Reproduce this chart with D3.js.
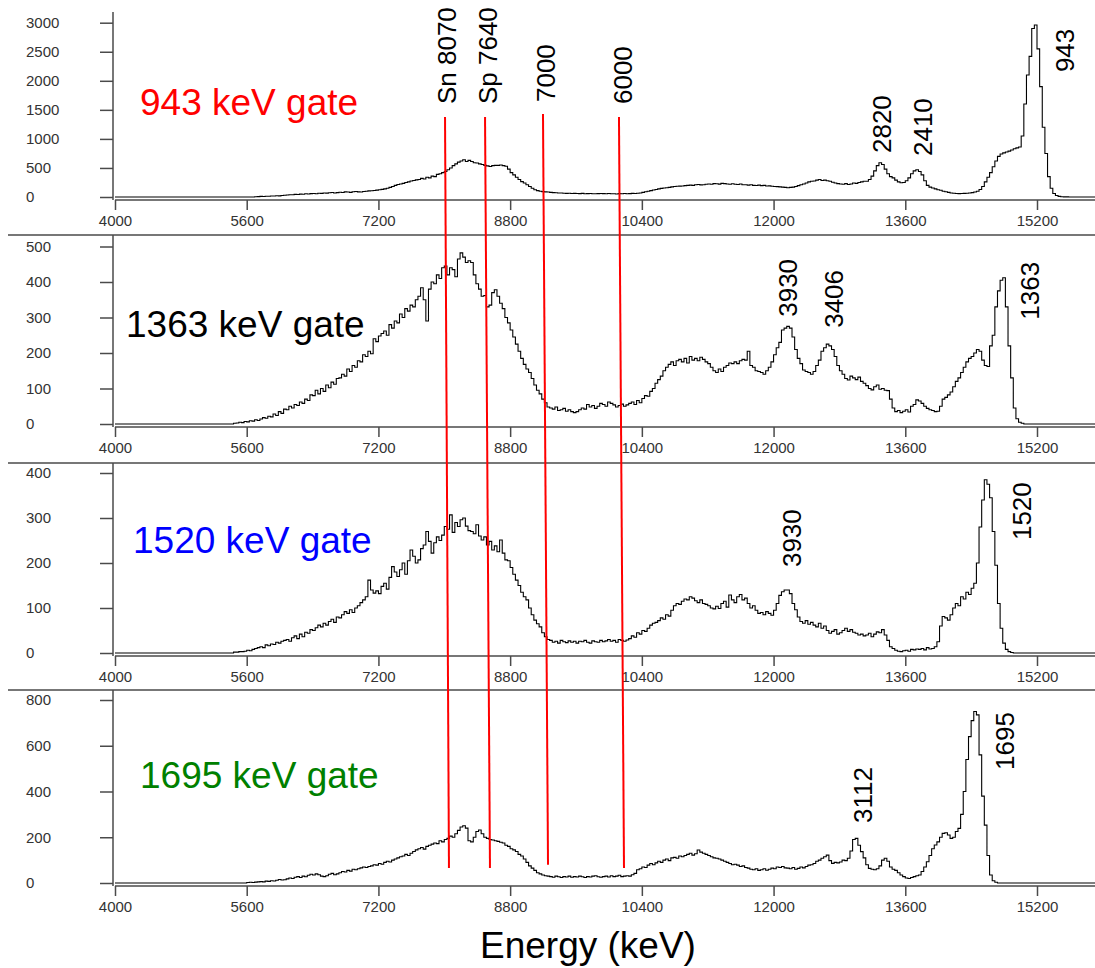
<!DOCTYPE html>
<html>
<head>
<meta charset="utf-8">
<script src="https://cdn.jsdelivr.net/npm/d3@7"></script>
<style>
  body { margin: 0; background: #fff; }
  svg { display: block; }
  text { font-family: "Liberation Sans", Arial, Helvetica, sans-serif; }
</style>
</head>
<body>
<svg id="chart" width="1095" height="968"></svg>
<script>
// Histogram binning (keV): every spectrum starts at binStart, fixed bin width
const binStart = 5440;
const binWidth = 32;

// Gated sum-energy spectra, counts per 32 keV bin (10 bins per row)
const counts943 = [
  0,0,0,0,0,0,0,0,4,6,
  10,8,14,12,18,16,22,20,26,30,
  35,40,38,45,42,50,48,55,52,58,
  60,56,65,62,70,66,72,78,70,76,
  82,78,88,85,80,90,94,88,86,95,
  100,105,108,112,118,125,132,140,150,165,
  180,200,215,225,235,250,260,275,285,295,
  300,320,310,340,330,360,350,390,400,420,
  440,470,500,540,570,600,620,640,610,630,
  610,590,585,570,560,545,535,525,540,545,
  545,550,540,530,480,420,380,340,300,265,
  240,210,180,150,125,110,100,92,88,85,
  80,75,72,70,68,65,62,64,60,62,
  60,58,62,55,58,60,56,55,58,60,
  58,55,60,57,55,52,58,55,60,56,
  58,62,60,65,70,80,90,100,110,120,
  130,140,148,155,160,165,175,180,185,188,
  190,195,200,205,200,210,215,208,212,220,
  225,220,230,228,222,235,230,225,220,228,
  220,215,225,210,212,205,210,200,198,205,
  195,200,190,192,185,180,178,175,170,165,
  160,165,170,180,195,210,225,240,260,270,
  275,290,300,285,290,280,270,255,240,230,
  225,220,230,215,225,240,235,250,260,270,
  270,300,360,450,540,590,560,480,400,350,
  330,290,260,245,250,280,330,400,450,470,
  440,380,280,200,170,155,140,125,115,100,
  90,80,70,65,60,58,60,62,65,70,
  75,85,100,130,180,260,340,420,520,620,
  700,740,760,775,790,810,830,845,860,1050,
  1600,2100,2420,2900,2960,2550,1900,1200,750,350,
  150,60,25,10,5,3,2,0,0,0
];

const counts1363 = [
  2,3,5,4,7,6,9,8,12,10,
  14,18,16,22,20,28,24,35,30,42,
  40,50,45,55,52,62,58,70,66,82,
  80,95,85,100,92,110,102,118,112,128,
  130,140,135,155,148,165,160,178,175,195,
  190,205,198,240,232,248,255,262,250,280,
  270,290,285,310,300,325,318,335,330,350,
  360,384,350,290,380,400,395,420,410,440,
  445,420,440,435,415,465,482,470,455,460,
  455,420,395,380,360,362,330,335,370,378,
  360,340,325,300,285,265,245,225,205,185,
  168,155,145,128,110,95,85,70,60,48,
  45,42,48,38,40,44,36,40,35,32,
  35,40,45,42,55,48,52,44,50,58,
  55,50,62,58,54,48,52,56,50,54,
  58,62,55,66,60,72,80,78,92,100,
  115,125,135,150,160,168,175,165,178,182,
  175,185,172,190,180,185,178,188,182,175,
  170,160,150,145,155,148,160,165,172,170,
  175,170,178,182,180,205,165,160,150,148,
  145,140,150,160,175,195,215,230,265,270,
  275,270,245,210,185,170,152,148,145,140,
  148,165,180,205,215,225,220,210,190,165,
  150,140,128,124,135,130,125,132,120,115,
  108,100,96,105,110,98,100,95,94,70,
  45,35,38,32,36,40,34,50,55,68,
  65,58,50,44,40,38,35,36,50,70,
  75,82,90,105,120,130,145,160,175,185,
  190,200,210,205,180,165,162,220,250,330,
  375,405,412,330,220,130,45,15,5,2
];

const counts1520 = [
  2,2,3,3,4,6,5,8,10,12,
  14,12,18,16,20,19,24,22,26,28,
  30,26,34,38,32,42,36,46,44,52,
  50,56,62,58,66,62,70,75,68,80,
  78,85,92,88,96,90,100,105,112,118,
  125,162,140,133,138,132,148,155,142,168,
  192,180,170,185,200,175,205,229,215,200,
  207,232,240,270,248,222,245,258,250,262,
  281,275,307,268,290,281,296,300,282,272,
  270,265,285,260,251,258,240,248,229,238,
  225,251,222,207,205,190,175,162,150,135,
  125,118,100,85,73,65,58,45,36,30,
  28,24,26,22,28,25,23,27,24,26,
  22,26,25,28,24,22,27,25,24,28,
  25,27,30,26,28,24,30,28,26,29,
  32,38,35,45,42,50,48,55,62,66,
  68,72,78,75,85,82,95,105,110,108,
  115,120,118,125,122,116,112,118,110,108,
  105,100,98,104,99,110,115,102,129,118,
  112,125,130,118,122,110,100,105,95,88,
  90,85,92,88,84,95,110,128,136,140,
  140,132,110,96,80,70,66,72,64,68,
  62,58,66,55,60,50,44,48,52,42,
  45,50,55,48,52,46,44,40,42,38,
  40,44,36,42,47,45,52,40,28,14,
  10,6,4,3,5,6,4,8,7,9,
  8,10,7,12,9,10,14,25,60,81,
  78,73,85,100,110,105,125,120,135,130,
  144,155,200,280,340,385,375,345,270,195,
  110,55,22,8,3,1
];

const counts1695 = [
  0,0,0,0,0,2,3,2,4,5,
  6,5,8,7,10,9,12,15,13,14,
  18,22,20,25,28,24,30,27,34,38,
  35,40,36,30,28,32,38,42,36,40,
  45,50,48,55,52,60,58,62,66,70,
  68,72,75,80,78,85,82,90,95,92,
  100,105,110,115,118,125,120,130,138,145,
  150,155,148,160,165,170,175,172,185,180,
  190,195,205,200,215,230,245,250,240,185,
  180,200,225,232,215,200,195,190,188,185,
  182,178,175,165,160,150,145,138,125,118,
  105,90,75,65,55,45,40,35,32,30,
  28,25,30,27,24,28,26,30,25,28,
  26,30,27,24,28,26,30,32,27,25,
  28,30,26,32,28,30,34,28,30,32,
  30,36,42,58,62,70,68,78,85,80,
  88,95,90,100,105,98,110,112,108,118,
  115,120,125,130,122,128,144,135,130,125,
  120,115,110,108,105,100,95,90,85,80,
  82,78,72,75,68,65,60,58,62,55,
  58,62,56,60,65,62,70,68,72,66,
  65,62,68,60,64,70,66,72,78,80,
  85,95,100,108,115,122,98,86,90,88,
  92,100,98,108,140,190,195,165,137,110,
  80,64,60,58,62,75,100,108,95,70,
  60,55,45,35,28,22,20,24,28,32,
  35,50,70,93,120,150,166,180,200,217,
  220,210,195,200,225,239,300,400,540,640,
  710,750,735,560,380,253,120,35,10,3
];

// Axis ticks
const energyTicks = [4000, 5600, 7200, 8800, 10400, 12000, 13600, 15200];
const yTicks943 = [0, 500, 1000, 1500, 2000, 2500, 3000];
const yTicks1363 = [0, 100, 200, 300, 400, 500];
const yTicks1520 = [0, 100, 200, 300, 400];
const yTicks1695 = [0, 200, 400, 600, 800];

// Gate names and colours
const gateLabels = ["943 keV gate", "1363 keV gate", "1520 keV gate", "1695 keV gate"];
const gateColors = ["#ff0000", "#000000", "#0000ff", "#008000"];

// Peak annotations: label text, energy (keV), count level where the text starts
const peaks943 = [
  { text: "2820", energy: 13305, count: 757 },
  { text: "2410", energy: 13815, count: 705 },
  { text: "943", energy: 15528, count: 2150 }
];
const peaks1363 = [
  { text: "3930", energy: 12175, count: 302 },
  { text: "3406", energy: 12722, count: 271 },
  { text: "1363", energy: 15103, count: 294 }
];
const peaks1520 = [
  { text: "3930", energy: 12212, count: 191 },
  { text: "1520", energy: 15006, count: 251 }
];
const peaks1695 = [
  { text: "3112", energy: 13086, count: 262 },
  { text: "1695", energy: 14811, count: 494 }
];

// Threshold markers crossing all four spectra
const markerLabels = ["Sn 8070", "Sp 7640", "7000", "6000"];
const markerTopKeV = [8009, 8495, 9199, 10122];
const markerBottomKeV = [8057, 8555, 9260, 10183];
const markerTopCount943 = [1377, 1377, 1429, 1377];
const markerBottomCount1695 = [66, 66, 80, 66];
const markerLabelKeV = [8021, 8519, 9224, 10159];
const markerLabelCount943 = [1600, 1600, 1635, 1600];

// ---------------------------------------------------------------- layout
const W = 1095, H = 968;
const axisX = 113;
const zeroY = [197, 424, 653, 883];
const topTickY = [22.7, 246.5, 473, 700];
const axisTopY = [12, 235, 463, 690];
const separatorY = [235, 463, 690];
const gateLabelPos = [[140, 115], [126, 337], [133, 553], [140, 788]];
const axisColor = "#4a4a4a";
const tickTextColor = "#333";

const svg = d3.select("#chart");

const x = d3.scaleLinear().domain([4000, 15200]).range([115, 1037]);

const panels = [
  { counts: counts943, ticks: yTicks943, peaks: peaks943 },
  { counts: counts1363, ticks: yTicks1363, peaks: peaks1363 },
  { counts: counts1520, ticks: yTicks1520, peaks: peaks1520 },
  { counts: counts1695, ticks: yTicks1695, peaks: peaks1695 }
].map((p, i) => {
  const top = p.ticks[p.ticks.length - 1];
  p.y = d3.scaleLinear().domain([0, top]).range([zeroY[i], topTickY[i]]);
  p.index = i;
  return p;
});

// panel separators
svg.selectAll("line.sep").data(separatorY).join("line")
  .attr("class", "sep")
  .attr("x1", 8).attr("x2", W)
  .attr("y1", d => d).attr("y2", d => d)
  .attr("stroke", axisColor).attr("stroke-width", 1.5);

const stepLine = d3.line().curve(d3.curveStepAfter);

panels.forEach((p, i) => {
  const g = svg.append("g");
  const y = p.y;

  // histogram
  const pts = [[x(4000), y(0)]];
  p.counts.forEach((c, k) => pts.push([x(binStart + k * binWidth), y(c)]));
  pts.push([x(binStart + p.counts.length * binWidth), y(0)]);
  pts.push([x(16100), y(0)]);
  g.append("path")
    .attr("d", stepLine(pts))
    .attr("fill", "none")
    .attr("stroke", "#000")
    .attr("stroke-width", 1.1);

  // y axis
  const yAxis = d3.axisLeft(y).tickValues(p.ticks).tickSize(13).tickSizeOuter(0).tickFormat(d3.format("d"));
  const ya = g.append("g").attr("transform", `translate(${axisX},0)`).call(yAxis);
  ya.select(".domain").remove();
  ya.selectAll(".tick line").attr("stroke", axisColor).attr("stroke-width", 1.5);
  ya.selectAll(".tick text")
    .attr("x", 26 - axisX).attr("text-anchor", "start")
    .attr("fill", tickTextColor).style("font-size", "15px");
  g.append("line")
    .attr("x1", axisX).attr("x2", axisX)
    .attr("y1", axisTopY[i]).attr("y2", zeroY[i] + 3)
    .attr("stroke", axisColor).attr("stroke-width", 1.5);

  // x axis
  const xAxis = d3.axisBottom(x).tickValues(energyTicks).tickSize(10).tickPadding(5).tickSizeOuter(0).tickFormat(d3.format("d"));
  const xa = g.append("g").attr("transform", `translate(0,${zeroY[i] + 3})`).call(xAxis);
  xa.select(".domain").attr("d", `M${x(4000)},0H${W}`).attr("stroke", axisColor).attr("stroke-width", 1.5);
  xa.selectAll(".tick line").attr("stroke", axisColor).attr("stroke-width", 1.5);
  xa.selectAll(".tick text").attr("fill", tickTextColor).style("font-size", "15px");

  // gate label
  g.append("text")
    .attr("x", gateLabelPos[i][0]).attr("y", gateLabelPos[i][1])
    .attr("fill", gateColors[i])
    .style("font-size", "37px")
    .text(gateLabels[i]);

  // peak labels (vertical)
  g.selectAll("text.peak").data(p.peaks).join("text")
    .attr("class", "peak")
    .attr("transform", d => `translate(${x(d.energy) + 9.5},${y(d.count)}) rotate(-90)`)
    .style("font-size", "26px")
    .attr("fill", "#000")
    .text(d => d.text);
});

// threshold markers spanning the panels
const yTop = panels[0].y, yBottom = panels[3].y;
svg.selectAll("line.marker").data(markerLabels).join("line")
  .attr("class", "marker")
  .attr("x1", (d, k) => x(markerTopKeV[k]))
  .attr("y1", (d, k) => yTop(markerTopCount943[k]))
  .attr("x2", (d, k) => x(markerBottomKeV[k]))
  .attr("y2", (d, k) => yBottom(markerBottomCount1695[k]))
  .attr("stroke", "#ff0000").attr("stroke-width", 2);

svg.selectAll("text.marker").data(markerLabels).join("text")
  .attr("class", "marker")
  .attr("transform", (d, k) => `translate(${x(markerLabelKeV[k]) + 9.5},${yTop(markerLabelCount943[k])}) rotate(-90)`)
  .style("font-size", "26px")
  .attr("fill", "#000")
  .text(d => d);

// axis title
svg.append("text")
  .attr("x", 588).attr("y", 958)
  .attr("text-anchor", "middle")
  .style("font-size", "37px")
  .attr("fill", "#000")
  .text("Energy (keV)");
</script>
</body>
</html>
